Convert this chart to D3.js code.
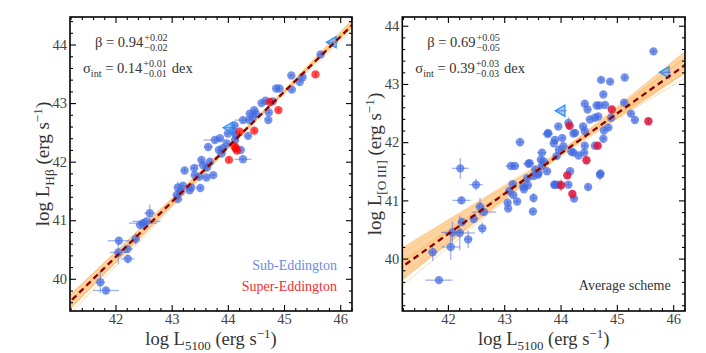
<!DOCTYPE html>
<html>
<head>
<meta charset="utf-8">
<script src="https://cdn.jsdelivr.net/npm/d3@7"></script>
<style>
  body { margin: 0; background: #fff; }
  svg text { font-family: "Liberation Serif", "DejaVu Serif", serif !important; }
</style>
</head>
<body>
<div id="chart"></div>
<script>
// ---- data: left panel, log L5100 vs log L_Hbeta ----
const hbSubX  = [45.65,45.33,45.28,45.13,45.14,44.86,44.92,44.60,44.67,44.80,44.73,44.47,44.39,44.50,44.45,44.38,44.72,44.27,44.36,44.09,44.00,44.13,44.27,43.98,43.91,43.86,43.77,43.65,43.84,43.89,43.53,43.68,43.63,43.56,43.40,43.23,43.74,43.49,43.62,43.20,43.11,43.35,43.51,43.16,43.32,43.09,43.11,42.61,42.49,42.44,42.55,42.36,42.06,42.05,42.21,42.22,41.73,41.83,43.41,44.14,44.23,44.12];
const hbSubY  = [43.83,43.44,43.36,43.47,43.23,43.25,43.25,43.00,43.04,43.03,42.84,42.88,42.82,42.82,42.77,42.71,42.71,42.71,42.44,42.53,42.48,42.37,42.04,42.31,42.23,42.40,42.37,42.25,42.20,42.14,42.03,42.00,41.90,41.94,41.89,41.85,41.77,41.74,41.73,41.59,41.56,41.56,41.55,41.49,41.51,41.43,41.36,41.12,40.95,40.92,40.98,40.68,40.65,40.45,40.51,40.34,39.94,39.80,41.77,42.45,42.20,42.62];
const hbSubXe = [0.05,0.05,0.04,0.05,0.04,0.05,0.04,0.05,0.05,0.04,0.05,0.05,0.04,0.05,0.05,0.05,0.04,0.15,0.05,0.06,0.05,0.06,0.15,0.05,0.06,0.05,0.20,0.08,0.06,0.06,0.05,0.05,0.06,0.15,0.06,0.05,0.05,0.05,0.06,0.05,0.06,0.05,0.05,0.06,0.05,0.05,0.05,0.10,0.25,0.08,0.25,0.06,0.20,0.15,0.10,0.12,0.08,0.23,0.05,0.06,0.05,0.05];
const hbSubYe = [0.04,0.04,0.04,0.04,0.04,0.04,0.04,0.04,0.04,0.04,0.04,0.04,0.04,0.04,0.04,0.04,0.04,0.05,0.04,0.05,0.04,0.05,0.04,0.04,0.05,0.04,0.05,0.05,0.04,0.04,0.04,0.04,0.05,0.05,0.04,0.05,0.04,0.04,0.04,0.05,0.10,0.04,0.04,0.06,0.04,0.04,0.04,0.15,0.06,0.06,0.06,0.10,0.06,0.20,0.06,0.08,0.18,0.05,0.04,0.04,0.04,0.04];
const hbSupX  = [45.56,44.75,44.90,44.21,44.47,44.12,44.16,44.14,44.02];
const hbSupY  = [43.49,43.02,42.88,42.51,42.53,42.26,42.19,42.23,42.03];
const hbLimX  = [45.87,44.03];
const hbLimY  = [44.04,42.58];
// posterior samples of the fit (intercept at log L5100 = 44, slope)
const hbAlpha = [42.25,42.22,42.28,42.24,42.26,42.21,42.29,42.25,42.25,42.21,42.26,42.24];
const hbBeta  = [0.94,0.97,0.91,0.93,0.95,0.97,0.92,0.90,0.98,1.00,0.94,0.96];
const hbFit   = [42.25, 0.94];

// ---- data: right panel, log L5100 vs log L_[OIII] ----
const o3SubX  = [45.65,44.72,44.88,45.14,44.76,45.13,45.25,45.32,44.43,44.48,44.64,44.69,44.79,44.52,44.61,44.67,44.90,44.85,44.14,43.96,44.40,44.43,43.77,44.03,43.88,44.05,44.23,44.76,44.43,43.28,43.97,44.32,44.23,43.67,43.93,44.71,44.17,42.22,43.12,43.19,43.45,43.67,43.70,43.76,43.55,43.61,43.78,43.90,44.26,44.77,44.19,44.42,43.65,43.43,44.70,42.50,43.41,43.90,43.34,42.24,43.15,43.42,43.52,43.60,43.89,43.09,43.16,43.06,43.07,43.23,43.52,43.51,42.57,42.64,42.46,42.25,42.61,42.08,42.21,42.36,42.05,41.73,41.84,43.35,43.96,44.14,44.49,44.24,44.61];
const o3SubY  = [43.56,43.07,43.04,43.11,42.82,42.68,42.49,42.38,42.66,42.56,42.63,42.63,42.64,42.39,42.42,42.44,42.42,42.25,42.33,42.27,42.27,42.19,42.14,42.07,41.98,41.93,42.15,42.06,41.94,42.00,41.87,41.77,41.82,41.82,41.76,41.46,41.50,41.55,41.59,41.59,41.64,41.59,41.67,41.50,41.53,41.47,42.16,42.04,42.16,42.20,41.84,41.82,41.70,41.63,41.44,41.27,41.38,41.27,41.24,41.00,41.28,41.26,41.42,41.44,41.27,41.16,41.09,40.96,40.86,40.98,41.04,40.81,40.89,40.80,40.68,40.63,40.52,40.45,40.44,40.33,40.20,40.11,39.63,41.19,41.27,41.27,41.23,41.03,41.94];
const o3SubXe = [0.05,0.05,0.05,0.05,0.05,0.05,0.05,0.05,0.05,0.05,0.05,0.05,0.05,0.05,0.05,0.05,0.05,0.05,0.06,0.05,0.05,0.05,0.10,0.05,0.06,0.05,0.05,0.05,0.05,0.08,0.06,0.05,0.05,0.08,0.06,0.05,0.05,0.15,0.10,0.06,0.06,0.05,0.10,0.06,0.05,0.05,0.06,0.06,0.05,0.05,0.05,0.05,0.05,0.10,0.05,0.12,0.06,0.06,0.06,0.16,0.06,0.06,0.05,0.06,0.06,0.06,0.06,0.05,0.05,0.06,0.05,0.05,0.08,0.22,0.07,0.08,0.07,0.20,0.27,0.07,0.16,0.08,0.24,0.06,0.06,0.05,0.05,0.05,0.06];
const o3SubYe = [0.05,0.05,0.05,0.05,0.05,0.05,0.05,0.05,0.05,0.05,0.05,0.05,0.05,0.05,0.05,0.05,0.05,0.05,0.10,0.05,0.05,0.05,0.05,0.05,0.05,0.05,0.05,0.05,0.05,0.08,0.05,0.05,0.05,0.05,0.05,0.05,0.05,0.18,0.05,0.05,0.05,0.05,0.05,0.05,0.05,0.05,0.05,0.05,0.05,0.05,0.05,0.05,0.05,0.05,0.10,0.10,0.05,0.05,0.05,0.06,0.05,0.05,0.05,0.05,0.05,0.05,0.05,0.05,0.05,0.05,0.08,0.05,0.15,0.06,0.06,0.06,0.10,0.18,0.30,0.15,0.22,0.15,0.05,0.05,0.05,0.05,0.05,0.05,0.05];
const o3SupX  = [44.91,45.56,44.16,44.66,44.46,44.12,44.01,44.21];
const o3SupY  = [42.56,42.36,42.28,41.94,41.69,41.43,41.26,41.11];
const o3SupYe = [0.04,0.04,0.05,0.04,0.04,0.04,0.10,0.04];
const o3LimX  = [44.02,45.87];
const o3LimY  = [42.54,43.20];
const o3Alpha = [41.80,41.77,41.84,41.82,41.75,41.85,41.78,41.83,41.80,41.86,41.77,41.81,41.79,41.82];
const o3Beta  = [0.69,0.76,0.62,0.74,0.65,0.72,0.64,0.78,0.66,0.60,0.74,0.67,0.80,0.58];
const o3Fit   = [41.80, 0.69];

const xTicks = [42, 43, 44, 45, 46];
const hbYTicks = [40, 41, 42, 43, 44];
const o3YTicks = [40, 41, 42, 43, 44];

const W = 706, H = 353;
const FONT = "Liberation Serif";
const svg = d3.select("#chart").append("svg").attr("width", W).attr("height", H)
  .attr("font-family", FONT);

// rich text helper: segments [text, "n"|"sub"|"sup"]
function rich(text, segs, size) {
  let shift = 0;
  segs.forEach(([s, m]) => {
    const target = m === "sub" ? size * 0.28 : m === "sup" ? -size * 0.38 : 0;
    text.append("tspan")
      .attr("dy", target - shift)
      .attr("font-size", m === "n" ? size : size * 0.7)
      .text(s);
    shift = target;
  });
  return text;
}

// stat annotation with stacked +/- scripts
function statLine(g, x, y, head, val, up, lo, tail, size) {
  const t = g.append("text").attr("x", x).attr("y", y).attr("font-size", size)
    .attr("font-family", FONT).attr("fill", "#333");
  rich(t, head, size);
  t.append("tspan").text(val);
  const w = t.node().getComputedTextLength();
  const s1 = g.append("text").attr("x", x + w + 1).attr("y", y - size * 0.42)
    .attr("font-size", size * 0.7).attr("font-family", FONT).attr("fill", "#333").text(up);
  const s2 = g.append("text").attr("x", x + w + 1).attr("y", y + size * 0.3)
    .attr("font-size", size * 0.7).attr("font-family", FONT).attr("fill", "#333").text(lo);
  const w2 = Math.max(s1.node().getComputedTextLength(), s2.node().getComputedTextLength());
  if (tail) g.append("text").attr("x", x + w + w2 + 6).attr("y", y)
    .attr("font-size", size).attr("font-family", FONT).attr("fill", "#333").text(tail);
}

function panel(cfg) {
  const x = d3.scaleLinear().domain([41.19, 46.21]).range([cfg.x0, cfg.x1]);
  const y = d3.scaleLinear().domain(cfg.ydom).range([cfg.y1, cfg.y0]);
  const g = svg.append("g");
  const clipId = "clip" + cfg.id;
  svg.append("clipPath").attr("id", clipId).append("rect")
    .attr("x", cfg.x0).attr("y", cfg.y0).attr("width", cfg.x1 - cfg.x0).attr("height", cfg.y1 - cfg.y0);
  const plot = g.append("g").attr("clip-path", `url(#${clipId})`);

  // fit band from posterior samples
  const xs = d3.range(41.1, 46.31, 0.1);
  const lines = cfg.alpha.map((a, i) => ({ a, b: cfg.beta[i] }));
  const env = xs.map(v => {
    const ys = lines.map(l => l.a + l.b * (v - 44)).sort(d3.ascending);
    return { v, lo: d3.quantile(ys, 0.08), hi: d3.quantile(ys, 0.92) };
  });
  plot.append("path").datum(env)
    .attr("d", d3.area().x(d => x(d.v)).y0(d => y(d.lo)).y1(d => y(d.hi)))
    .attr("fill", "#fdca8c").attr("opacity", 0.8);
  plot.selectAll(".sample").data(lines).enter().append("line")
    .attr("x1", x(41.1)).attr("x2", x(46.3))
    .attr("y1", d => y(d.a + d.b * (41.1 - 44))).attr("y2", d => y(d.a + d.b * (46.3 - 44)))
    .attr("stroke", "#fdbb6c").attr("stroke-width", 0.9).attr("opacity", 0.6);

  // sub-Eddington points with error bars
  const sub = cfg.subX.map((v, i) => ({ x: v, y: cfg.subY[i], xe: cfg.subXe[i], ye: cfg.subYe[i] }));
  const blue = "royalblue";
  plot.selectAll(".exb").data(sub).enter().append("line")
    .attr("x1", d => x(d.x - d.xe)).attr("x2", d => x(d.x + d.xe))
    .attr("y1", d => y(d.y)).attr("y2", d => y(d.y))
    .attr("stroke", blue).attr("stroke-width", 1.3).attr("opacity", 0.5);
  plot.selectAll(".eyb").data(sub).enter().append("line")
    .attr("x1", d => x(d.x)).attr("x2", d => x(d.x))
    .attr("y1", d => y(d.y - d.ye)).attr("y2", d => y(d.y + d.ye))
    .attr("stroke", blue).attr("stroke-width", 1.3).attr("opacity", 0.5);
  plot.selectAll(".sub").data(sub).enter().append("circle")
    .attr("cx", d => x(d.x)).attr("cy", d => y(d.y)).attr("r", 4.2)
    .attr("fill", blue).attr("opacity", 0.7);

  // super-Eddington points
  const sup = cfg.supX.map((v, i) => ({ x: v, y: cfg.supY[i], ye: cfg.supYe ? cfg.supYe[i] : 0.04 }));
  plot.selectAll(".seb").data(sup).enter().append("line")
    .attr("x1", d => x(d.x)).attr("x2", d => x(d.x))
    .attr("y1", d => y(d.y - d.ye)).attr("y2", d => y(d.y + d.ye))
    .attr("stroke", cfg.red).attr("stroke-width", 1.3).attr("opacity", 0.6);
  plot.selectAll(".sup").data(sup).enter().append("circle")
    .attr("cx", d => x(d.x)).attr("cy", d => y(d.y)).attr("r", 4.2)
    .attr("fill", cfg.red).attr("opacity", cfg.redOp);

  // upper limits (left-pointing triangles)
  const lim = cfg.limX.map((v, i) => ({ x: v, y: cfg.limY[i] }));
  plot.selectAll(".lim").data(lim).enter().append("path")
    .attr("d", d3.symbol(d3.symbolTriangle, 55))
    .attr("transform", d => `translate(${x(d.x)},${y(d.y)}) rotate(-90)`)
    .attr("fill", "#5b9bea").attr("fill-opacity", 0.55)
    .attr("stroke", "#1e90ff").attr("stroke-width", 1.2);
  plot.selectAll(".limbar").data(lim).enter().append("line")
    .attr("x1", d => x(d.x) - 5).attr("x2", d => x(d.x) + 5)
    .attr("y1", d => y(d.y)).attr("y2", d => y(d.y))
    .attr("stroke", "#4a6fd0").attr("stroke-width", 1.2).attr("opacity", 0.7);

  // best fit
  plot.append("line")
    .attr("x1", x(41.1)).attr("x2", x(46.3))
    .attr("y1", y(cfg.fit[0] + cfg.fit[1] * (41.1 - 44)))
    .attr("y2", y(cfg.fit[0] + cfg.fit[1] * (46.3 - 44)))
    .attr("stroke", "#8b0000").attr("stroke-width", 2.3).attr("stroke-dasharray", "6,4");

  // axes: ticks inward on all four sides
  const minorX = d3.range(41.2, 46.21, 0.2).filter(v => Math.abs(v - Math.round(v)) > 0.01);
  const minorY = d3.range(Math.ceil(cfg.ydom[0] * 5) / 5, cfg.ydom[1], 0.2).filter(v => Math.abs(v - Math.round(v)) > 0.01);
  const fmt = d3.format("d");
  const ax = (axis, tr, vals, size, lab) => {
    const a = g.append("g").attr("transform", tr)
      .call(axis.tickValues(vals).tickSize(size).tickPadding(lab ? 3 : 0).tickFormat(lab ? fmt : ""));
    a.attr("font-family", FONT);
    a.select(".domain").remove();
    a.selectAll("line").attr("stroke", "#000").attr("stroke-width", 1.1);
    a.selectAll("text").attr("font-size", 14.5).attr("fill", "#444").attr("font-family", FONT);
    return a;
  };
  ax(d3.axisBottom(x), `translate(0,${cfg.y1})`, xTicks, -6, true);
  ax(d3.axisBottom(x), `translate(0,${cfg.y1})`, minorX, -3, false);
  ax(d3.axisTop(x), `translate(0,${cfg.y0})`, xTicks, -6, false);
  ax(d3.axisTop(x), `translate(0,${cfg.y0})`, minorX, -3, false);
  ax(d3.axisLeft(y), `translate(${cfg.x0},0)`, cfg.yTicks, -6, true).selectAll("text").attr("x", -3);
  ax(d3.axisLeft(y), `translate(${cfg.x0},0)`, minorY, -3, false);
  ax(d3.axisRight(y), `translate(${cfg.x1},0)`, cfg.yTicks, -6, false);
  ax(d3.axisRight(y), `translate(${cfg.x1},0)`, minorY, -3, false);

  g.append("rect").attr("x", cfg.x0).attr("y", cfg.y0)
    .attr("width", cfg.x1 - cfg.x0).attr("height", cfg.y1 - cfg.y0)
    .attr("fill", "none").attr("stroke", "#000").attr("stroke-width", 1.6);

  // axis labels
  const xl = g.append("text").attr("x", (cfg.x0 + cfg.x1) / 2).attr("y", 345)
    .attr("text-anchor", "middle").attr("font-family", FONT).attr("fill", "#333");
  rich(xl, [["log L", "n"], ["5100", "sub"], [" (erg s", "n"], ["\u22121", "sup"], [")", "n"]], 18.5);
  const cy = (cfg.y0 + cfg.y1) / 2;
  const yl = g.append("text").attr("transform", `translate(${cfg.ylx},${cy}) rotate(-90)`)
    .attr("text-anchor", "middle").attr("font-family", FONT).attr("fill", "#333");
  rich(yl, [["log L", "n"], [cfg.ysub, "sub"], [" (erg s", "n"], ["\u22121", "sup"], [")", "n"]], 19);

  // fit statistics
  statLine(g, cfg.x0 + 25, 47, [["\u03b2 = ", "n"]], cfg.stats[0], cfg.stats[1], cfg.stats[2], null, 14.5);
  statLine(g, cfg.x0 + 13, 73, [["\u03c3", "n"], ["int", "sub"], [" = ", "n"]], cfg.stats[3], cfg.stats[4], cfg.stats[5], "dex", 14.5);
  return g;
}

const left = panel({
  id: "L", x0: 70, x1: 352, y0: 17, y1: 311, ydom: [39.45, 44.47], yTicks: hbYTicks,
  subX: hbSubX, subY: hbSubY, subXe: hbSubXe, subYe: hbSubYe,
  supX: hbSupX, supY: hbSupY, limX: hbLimX, limY: hbLimY,
  alpha: hbAlpha, beta: hbBeta, fit: hbFit, red: "red", redOp: 0.7,
  ylx: 49, ysub: "H\u03b2",
  stats: ["0.94", "+0.02", "\u22120.02", "0.14", "+0.01", "\u22120.01"]
});
left.append("text").attr("x", 337).attr("y", 270).attr("text-anchor", "end").attr("font-family", FONT)
  .attr("font-size", 14).attr("fill", "#6b8be6").text("Sub-Eddington");
left.append("text").attr("x", 337).attr("y", 291).attr("text-anchor", "end").attr("font-family", FONT)
  .attr("font-size", 14).attr("fill", "#ee3030").text("Super-Eddington");

const right = panel({
  id: "R", x0: 402.3, x1: 685, y0: 17, y1: 311, ydom: [39.1, 44.15], yTicks: o3YTicks,
  subX: o3SubX, subY: o3SubY, subXe: o3SubXe, subYe: o3SubYe,
  supX: o3SupX, supY: o3SupY, supYe: o3SupYe, limX: o3LimX, limY: o3LimY,
  alpha: o3Alpha, beta: o3Beta, fit: o3Fit, red: "crimson", redOp: 0.85,
  ylx: 381, ysub: "[O\u2009III]",
  stats: ["0.69", "+0.05", "\u22120.05", "0.39", "+0.03", "\u22120.03"]
});
right.append("text").attr("x", 670.7).attr("y", 290).attr("text-anchor", "end").attr("font-family", FONT)
  .attr("font-size", 14).attr("fill", "#333").text("Average scheme");
</script>
</body>
</html>
